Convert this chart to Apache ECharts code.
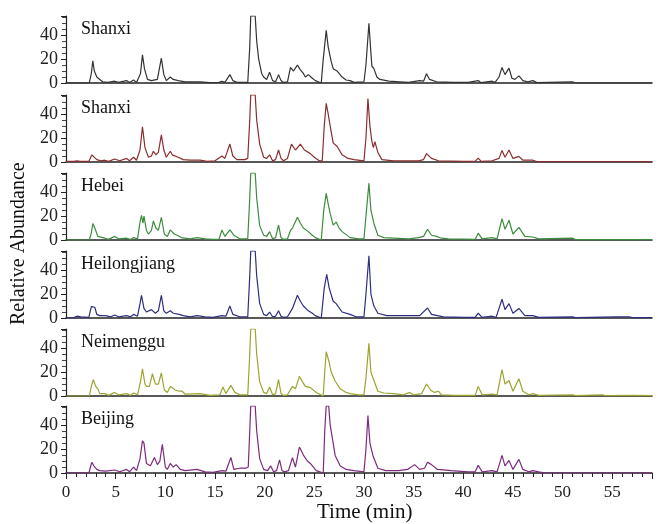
<!DOCTYPE html>
<html>
<head>
<meta charset="utf-8">
<script src="https://cdn.jsdelivr.net/npm/echarts@6/dist/echarts.min.js"></script>
<style>
  html, body { margin: 0; padding: 0; background: #fff; }
  #chart { width: 658px; height: 524px; }
</style>
</head>
<body>
<div id="chart"></div>
<script>
// chromatograms, [time (min), relative abundance]
var regions = ['Shanxi', 'Shanxi', 'Hebei', 'Heilongjiang', 'Neimenggu', 'Beijing']
var lineColors = ['#333333', '#8a2e2e', '#3d8c3d', '#2e2e80', '#9ea42e', '#7e2a7e']
var xTicks = [0, 5, 10, 15, 20, 25, 30, 35, 40, 45, 50, 55]
var yTicks = [0, 20, 40]

var shanxiA = [[0,0],[2.35,0],[2.55,8],[2.7,18.5],[2.85,10],[3.1,5],[3.4,3],[3.7,1],[3.9,2],[4.2,0.5],[4.9,1.5],[5.3,0.5],[6.1,2],[6.4,0.5],[6.8,2.5],[7.1,0.5],[7.5,8],[7.7,23.5],[7.9,12],[8.2,3],[8.6,2],[9.2,3],[9.6,20.7],[9.85,7],[10.1,2],[10.5,5],[10.8,3],[11,4],[11.3,2],[11.5,2],[12,1],[13.5,1],[14.5,0.3],[15.4,0.5],[15.7,1.5],[16,0.5],[16.5,7],[16.8,2],[17.2,0.5],[18.3,0.5],[18.5,30],[18.6,56],[19.05,56],[19.2,35],[19.4,20],[19.7,8],[19.9,5],[20.2,3],[20.5,9],[20.8,2],[21.1,1],[21.4,7],[21.65,2],[21.9,0.5],[22.3,1],[22.6,13],[22.9,10],[23.3,15],[23.6,11],[23.9,8],[24.1,5],[24.4,7],[24.8,4],[25.1,2],[25.7,0],[25.9,20],[26.2,44],[26.4,30],[26.7,18],[26.9,12],[27.3,10],[27.8,5],[28.2,2.5],[28.6,2],[29,0.5],[30,1],[30.2,15],[30.5,50],[30.7,25],[30.8,14],[31,12],[31.3,5],[31.6,3],[32.5,1.5],[33.6,1],[34.5,0.5],[35.6,2],[36,1.5],[36.3,7.7],[36.6,3],[37.3,1],[39,0.5],[40.5,0.5],[41.5,2],[41.8,0.3],[42.9,1.5],[43.2,0.5],[43.6,5],[43.9,13],[44.2,7],[44.6,12.4],[44.9,4],[45.2,3],[45.6,6],[46,2],[46.5,1],[47,2],[47.4,0.3],[51,1],[51.3,0],[59,0]]

var shanxiB = [[0,0.5],[0.8,0.5],[1.1,1],[1.4,0.5],[2.3,0.5],[2.6,6],[2.8,5],[3.1,2],[3.5,1],[3.9,1.5],[4.3,0.5],[4.9,2.5],[5.4,1],[6.1,3],[6.4,1],[6.8,4],[7.1,1.5],[7.45,10],[7.7,29.5],[7.95,12],[8.3,4],[8.6,5],[8.8,9],[9.05,6],[9.3,8],[9.6,22.6],[9.85,10],[10.1,4],[10.5,9],[10.7,6],[10.9,7],[11.3,4],[11.8,2],[12.5,1.5],[13.5,1.5],[14.2,0.5],[15,1],[15.7,5],[16,3],[16.5,15],[16.8,5],[17.2,2],[18,2],[18.3,3],[18.5,35],[18.6,56],[19.05,56],[19.2,35],[19.5,15],[19.9,4],[20.2,3],[20.5,6],[20.8,1],[21.1,2],[21.4,10],[21.65,3],[21.9,1],[22.3,3],[22.7,15],[23.1,10],[23.6,15],[24,10],[24.6,7],[25,4],[25.5,1],[25.8,1],[26,30],[26.2,49],[26.4,40],[26.6,30],[26.9,16],[27.3,13],[27.8,6],[28.4,3],[29,2],[30,1],[30.2,20],[30.4,53],[30.6,30],[30.8,17],[30.95,12],[31.1,17],[31.4,8],[31.8,2],[33,1],[35.5,1],[36,2],[36.3,7],[36.8,3],[37.5,1],[40,0.5],[41.2,0.5],[41.5,3.3],[41.8,0.5],[42.9,1],[43.6,3],[43.9,9.7],[44.2,4],[44.6,10],[45,3],[45.6,4.7],[46,1.5],[47,1.5],[47.4,0.3],[59,0.3]]

var hebei = [[0,0],[2.35,0],[2.55,6],[2.7,13.8],[2.95,9],[3.2,3],[3.4,2],[3.9,1.5],[4.3,0.5],[4.9,3],[5.3,1],[6.1,1.5],[6.5,0.5],[6.8,2],[7.2,1],[7.45,15],[7.6,20.5],[7.75,14],[7.85,20],[8.1,8],[8.3,5],[8.6,8],[8.8,16],[9.05,10],[9.3,8],[9.6,19],[9.9,5],[10.2,3],[10.5,8.4],[10.9,5],[11.2,4],[11.6,2],[12.5,1],[13.2,2],[14,1],[14.8,0.5],[15.4,0.5],[15.7,8.4],[16,3],[16.2,3],[16.5,8.4],[16.9,4],[17.5,1],[18.3,1],[18.5,35],[18.6,56],[19.05,56],[19.2,35],[19.5,12],[19.9,4],[20.2,3],[20.5,7],[20.8,1],[21.1,2],[21.4,12.4],[21.65,2],[21.9,0.5],[22.3,1],[22.6,8],[22.8,10],[23.3,19],[23.6,14],[23.9,10],[24.4,7],[24.8,4],[25.1,2],[25.7,0],[25.95,25],[26.2,39],[26.4,30],[26.6,22],[26.9,12.4],[27.2,15],[27.5,10],[27.8,7],[28.6,2],[29.5,1],[30,1],[30.2,20],[30.5,47.5],[30.7,25],[31,13.8],[31.4,4],[32,2],[34.5,1],[35.5,2],[36,3],[36.4,9],[36.8,4],[37.3,3],[37.8,1.5],[38.5,1],[41.2,0.5],[41.5,5.7],[41.9,1],[42.9,2],[43.4,1],[43.9,17.8],[44.2,9],[44.6,16.5],[45,5],[45.6,10.5],[46.2,3],[47,2.5],[47.6,1],[51,1.5],[51.3,0.3],[59,0.3]]

var heilongjiang = [[0,0],[0.8,0.3],[1.1,1.5],[1.5,1],[2.3,0.5],[2.55,9.5],[2.9,9],[3.1,3],[3.4,2],[4,2],[4.5,1],[4.9,2.5],[5.3,1],[6.1,2],[6.5,1],[6.8,3],[7.2,1.5],[7.45,12],[7.6,19],[7.85,8],[8.1,5],[8.6,7],[9,4],[9.3,6],[9.6,19],[9.85,6],[10.1,4],[10.5,6],[10.8,4],[11,5],[11.4,3],[11.8,2],[12.5,1],[13.2,2],[14,1],[14.8,0.5],[15.7,2],[16.1,1.5],[16.5,10],[16.8,3],[17.5,1],[18.3,1],[18.5,35],[18.6,56],[19.05,56],[19.2,35],[19.5,12],[19.9,3],[20.2,2],[20.5,5],[20.8,1],[21.1,1.5],[21.4,6],[21.65,1.5],[21.9,0.5],[22.3,1],[22.8,8],[23.3,19],[23.6,14],[23.9,10],[24.4,6],[24.8,4],[25.1,2],[25.7,0],[26,25],[26.25,36.5],[26.5,25],[26.9,14],[27.2,12],[27.8,5],[28.6,3],[29.2,1],[30,1],[30.2,20],[30.5,52],[30.7,20],[31,10],[31.4,4],[32.3,2],[34.5,2],[35.6,2],[36.4,8.4],[36.8,3],[38,1],[40,0.5],[41.2,0.5],[41.5,4],[41.9,0.5],[42.9,1.5],[43.3,0.5],[43.9,15.7],[44.2,7],[44.6,12],[45,4],[45.6,8],[46.2,2],[47,2],[47.6,0.5],[51,1],[51.3,0.3],[55.4,1],[55.6,0.3],[56.7,1],[57,0.3],[59,0.3]]

var neimenggu = [[0,0],[2.35,0],[2.55,8],[2.75,13.6],[3,8],[3.2,6],[3.4,2],[3.9,2],[4.3,0.5],[4.9,3],[5.3,1],[6.1,2],[6.5,0.5],[6.8,2.5],[7.2,1],[7.5,12],[7.7,22.8],[7.95,10],[8.1,8],[8.4,8],[8.7,18.6],[9,10],[9.3,10],[9.6,19.2],[9.9,5],[10.2,3],[10.5,8],[11,5],[11.4,4],[11.7,4],[12,1.5],[13.5,2],[14.5,0.5],[15.5,1],[15.8,7.5],[16.1,2],[16.3,3],[16.6,8.9],[17,3],[17.5,1],[18.3,1],[18.5,35],[18.6,56],[19.05,56],[19.2,35],[19.5,12],[19.9,3],[20.2,2],[20.5,7.5],[20.8,1],[21.1,2],[21.4,13.6],[21.65,2],[21.9,0.5],[22.3,1],[22.8,8],[23.1,6],[23.5,16.4],[23.8,12],[24.1,8],[24.6,7],[25.2,3],[25.9,0],[26.05,20],[26.2,37],[26.5,28],[26.7,20],[27.1,12.5],[27.6,6],[28.2,3],[28.6,2],[29.5,1],[30,1],[30.2,15],[30.5,44],[30.7,20],[31,13],[31.4,4],[32,2.5],[33,2],[34,1],[34.6,3],[35,1],[35.8,2],[36.3,10],[36.7,5],[37.1,3],[37.5,4],[37.8,1],[39,0.5],[41.2,0.5],[41.5,8],[41.9,1],[42.9,1.5],[43.4,1],[43.9,22],[44.2,10],[44.6,13],[45,4],[45.6,14.4],[46,4],[46.6,1],[47,2],[47.6,0.5],[51,1],[51.3,0.3],[54,1],[54.3,0.3],[57,0.5],[59,0.3]]

var beijing = [[0,0],[2.3,0],[2.6,9],[2.8,6],[3.1,3],[3.4,2],[4,1.5],[4.9,2.5],[5.4,1],[6.1,3],[6.4,1],[6.8,5],[7.1,2],[7.45,12],[7.7,27],[7.85,25],[8.1,8],[8.5,6],[8.9,13],[9.2,7],[9.45,10],[9.7,24],[10,5],[10.2,3],[10.5,8],[10.8,5],[11.1,7],[11.5,3],[12,2],[13.2,3],[14,1],[14.8,0.5],[15.7,2],[16.1,1.5],[16.6,13],[16.9,3],[17.5,4],[18.1,4],[18.35,5],[18.5,35],[18.6,56],[19.05,56],[19.2,35],[19.5,12],[19.9,3],[20.3,2],[20.6,6],[20.9,1],[21.2,2],[21.5,11],[21.75,2],[22,1],[22.4,2],[22.8,12.8],[23.1,5],[23.5,21.7],[23.9,15],[24.3,10],[24.6,8],[25.2,2],[25.9,0],[26.05,35],[26.2,56],[26.45,56],[26.6,40],[26.8,30],[27.1,14.7],[27.6,6],[28.2,3],[29,2],[30,1],[30.2,20],[30.4,48],[30.6,25],[30.9,14.7],[31.4,4],[32.2,2],[33.5,2],[34.4,3],[35.1,7],[35.6,3],[36.1,4],[36.4,9],[36.8,7],[37.4,3],[38.8,2],[40.5,1],[41.2,1],[41.5,6.4],[41.9,1],[42.9,2],[43.4,1],[43.9,14.7],[44.2,6],[44.6,10.5],[45,3],[45.6,11.4],[46,3],[46.6,1],[47,2],[47.6,1],[48.3,0],[59,0]]

var traces = [shanxiA, shanxiB, hebei, heilongjiang, neimenggu, beijing]

var font = 'Liberation Serif'
var baselines = [83, 162, 240, 318, 396, 473]
var panelH = 67

var grids = [], xAxes = [], yAxes = [], series = [], graphics = []
baselines.forEach(function (b, i) {
  var last = i === baselines.length - 1
  grids.push({ left: 66, right: 6, top: b - panelH, height: panelH })
  xAxes.push({
    type: 'value', gridIndex: i, min: 0, max: 59, interval: 5,
    axisLine: { show: true, onZero: false, lineStyle: { color: '#222', width: 1.5 } },
    axisTick: { show: last, length: 6, lineStyle: { color: '#222' } },
    minorTick: { show: last, splitNumber: 5, length: 4, lineStyle: { color: '#222' } },
    axisLabel: {
      show: last, showMaxLabel: false, margin: 11, fontFamily: font, fontSize: 17, color: '#222',
      formatter: function (v) { return xTicks.indexOf(v) >= 0 ? v : '' }
    },
    splitLine: { show: false }
  })
  yAxes.push({
    type: 'value', gridIndex: i, min: 0, max: 56, interval: 20,
    axisLine: { show: true, lineStyle: { color: '#222', width: 1.2 } },
    axisTick: { show: true, length: 5, lineStyle: { color: '#222' } },
    minorTick: { show: true, splitNumber: 4, length: 4, lineStyle: { color: '#444' } },
    axisLabel: {
      showMaxLabel: false, margin: 8, fontFamily: font, fontSize: 18, color: '#222',
      formatter: function (v) { return yTicks.indexOf(v) >= 0 ? v : '' }
    },
    splitLine: { show: false }
  })
  series.push({
    name: regions[i], type: 'line', xAxisIndex: i, yAxisIndex: i,
    data: traces[i], showSymbol: false, symbol: 'none', clip: true,
    lineStyle: { color: lineColors[i], width: 1.2 }
  })
  graphics.push({
    type: 'text', left: 81, top: b - 63,
    style: { text: regions[i], font: '18px "Liberation Serif"', fill: '#111' }
  })
})

graphics.push({
  type: 'text', x: 9, y: 325, rotation: Math.PI / 2,
  style: { text: 'Relative Abundance', font: '20px "Liberation Serif"', fill: '#111' }
})
graphics.push({
  type: 'text', left: 317, top: 502,
  style: { text: 'Time (min)', font: '21px "Liberation Serif"', fill: '#111' }
})

var chart = echarts.init(document.getElementById('chart'))
chart.setOption({
  animation: false,
  grid: grids,
  xAxis: xAxes,
  yAxis: yAxes,
  series: series,
  graphic: graphics
})
</script>
</body>
</html>
